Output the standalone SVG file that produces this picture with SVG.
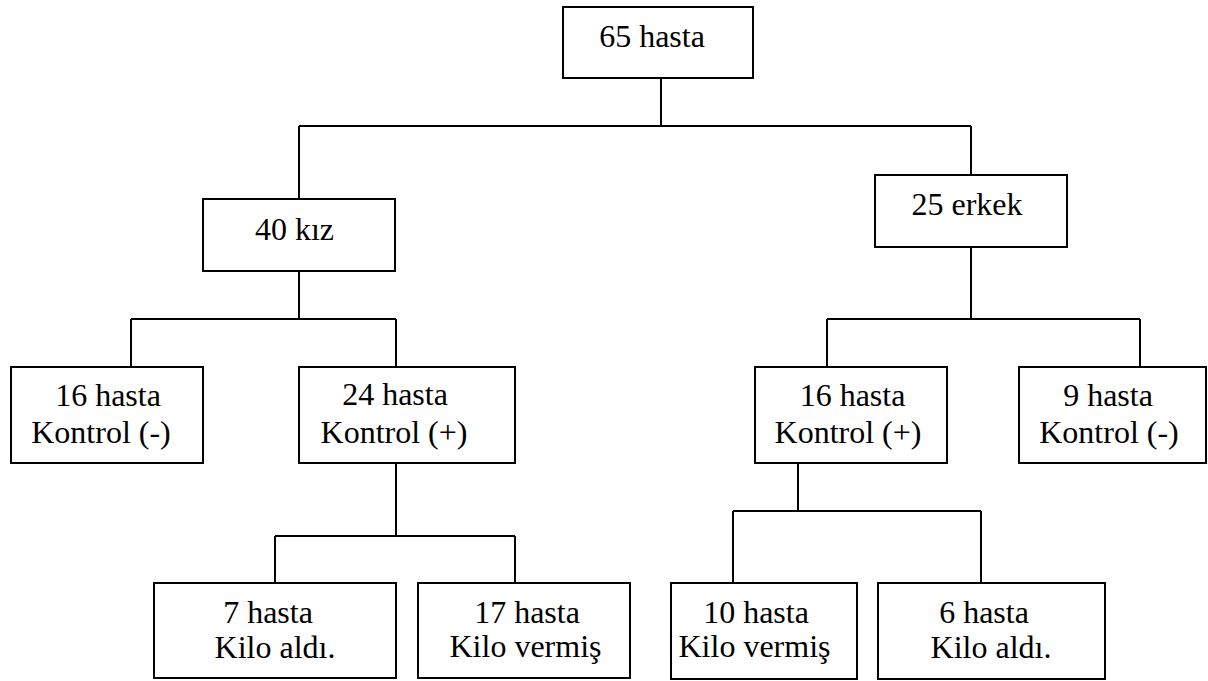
<svg xmlns="http://www.w3.org/2000/svg" width="1208" height="681" viewBox="0 0 1208 681">
<style>
.box{fill:#fff;stroke:#000;stroke-width:2}
.ln{fill:none;stroke:#000;stroke-width:2}
.t{font-size:32px;fill:#000;text-anchor:middle}
</style>
<rect width="1208" height="681" fill="#fff"/>
<g id="connectors" class="ln">
<path d="M661,78V126M299,126H971M299,126V199M971,126V175"/>
<path d="M299,271V319M131,319H396M131,319V367M396,319V367"/>
<path d="M971,247V319M827,319H1140M827,319V367M1140,319V367"/>
<path d="M396,463V536M275,536H515M275,536V583M515,536V583"/>
<path d="M798,463V511M733,511H981M733,511V583M981,511V583"/>
</g>
<g class="t" font-family="'Liberation Serif', 'Times New Roman', serif">
<g id="n-root"><rect class="box" x="563" y="7" width="190" height="71"/><text x="652" y="47">65 hasta</text></g>
<g id="n-kiz"><rect class="box" x="203" y="199" width="192" height="72"/><text x="294.5" y="240">40 kız</text></g>
<g id="n-erkek"><rect class="box" x="875" y="175" width="192" height="72"/><text x="967" y="215">25 erkek</text></g>
<g id="n-k-neg"><rect class="box" x="11" y="367" width="192" height="96"/><text x="108" y="406">16 hasta</text><text x="101" y="443">Kontrol (-)</text></g>
<g id="n-k-pos"><rect class="box" x="299" y="367" width="216" height="96"/><text x="395" y="405">24 hasta</text><text x="394" y="443">Kontrol (+)</text></g>
<g id="n-e-pos"><rect class="box" x="755" y="367" width="192" height="96"/><text x="852.5" y="406">16 hasta</text><text x="848" y="443">Kontrol (+)</text></g>
<g id="n-e-neg"><rect class="box" x="1019" y="367" width="187" height="96"/><text x="1108" y="406">9 hasta</text><text x="1109" y="443">Kontrol (-)</text></g>
<g id="n-k-aldi"><rect class="box" x="154" y="583" width="242" height="95"/><text x="268" y="623">7 hasta</text><text x="275" y="658">Kilo aldı.</text></g>
<g id="n-k-vermis"><rect class="box" x="418" y="583" width="212" height="95"/><text x="527" y="623">17 hasta</text><text x="525.5" y="657">Kilo vermiş</text></g>
<g id="n-e-vermis"><rect class="box" x="671" y="583" width="186" height="96"/><text x="756" y="623">10 hasta</text><text x="754.5" y="657">Kilo vermiş</text></g>
<g id="n-e-aldi"><rect class="box" x="878" y="583" width="227" height="96"/><text x="984" y="623">6 hasta</text><text x="991" y="658">Kilo aldı.</text></g>
</g>
</svg>
